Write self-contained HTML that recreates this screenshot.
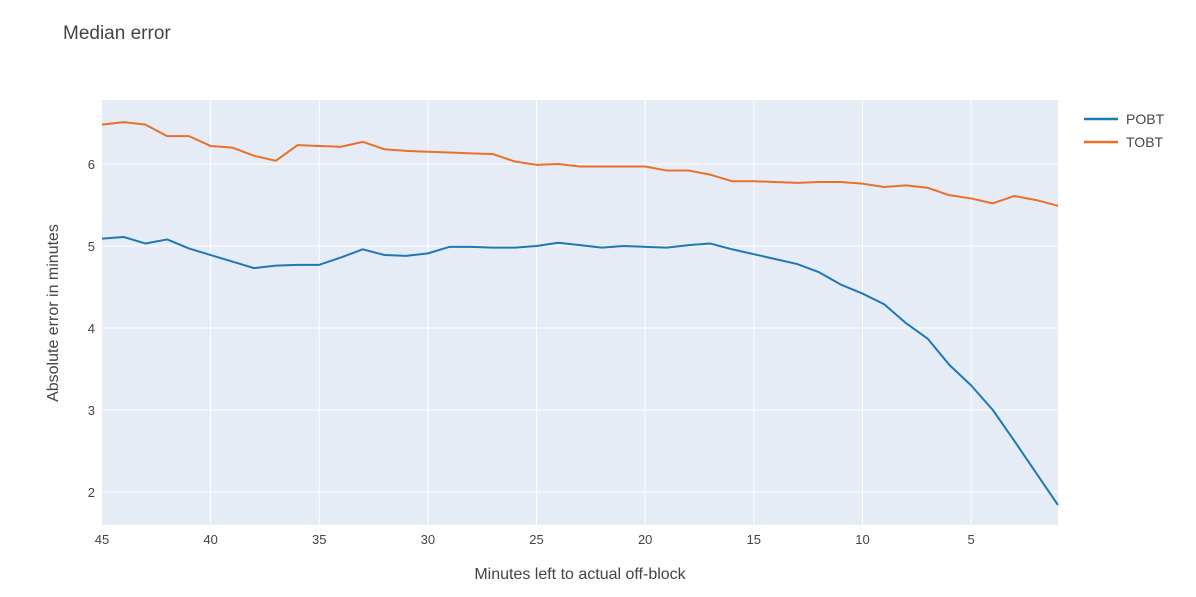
<!DOCTYPE html>
<html><head><meta charset="utf-8"><style>
body{margin:0;background:#fff;font-family:"Liberation Sans",sans-serif;}
svg text{font-family:"Liberation Sans",sans-serif;fill:#444;}
</style></head><body>
<svg id="chart" width="1196" height="592">
<text x="63" y="39" font-size="19">Median error</text>
<rect x="102" y="100" width="956" height="425" fill="#e5ecf6"/>
<g id="grid"></g><g id="ticks"></g><g id="lines"></g>
<text x="580" y="579" font-size="16" text-anchor="middle">Minutes left to actual off-block</text>
<text transform="translate(58,313) rotate(-90)" font-size="16" text-anchor="middle">Absolute error in minutes</text>
<g>
<g><line x1="1084" y1="119" x2="1118" y2="119" stroke="#1f77b4" stroke-width="2.5"/><text x="1126" y="124" font-size="14">POBT</text></g>
<g><line x1="1084" y1="142" x2="1118" y2="142" stroke="#e8702a" stroke-width="2.5"/><text x="1126" y="147" font-size="14">TOBT</text></g>
</g>
</svg>
<script>
const minutes=[45,44,43,42,41,40,39,38,37,36,35,34,33,32,31,30,29,28,27,26,25,24,23,22,21,20,19,18,17,16,15,14,13,12,11,10,9,8,7,6,5,4,3,2,1];
const pobt=[5.09,5.11,5.03,5.08,4.97,4.89,4.81,4.73,4.76,4.77,4.77,4.86,4.96,4.89,4.88,4.91,4.99,4.99,4.98,4.98,5.00,5.04,5.01,4.98,5.00,4.99,4.98,5.01,5.03,4.96,4.90,4.84,4.78,4.68,4.53,4.42,4.29,4.06,3.87,3.55,3.30,3.00,2.62,2.23,1.84];
const tobt=[6.48,6.51,6.48,6.34,6.34,6.22,6.20,6.10,6.04,6.23,6.22,6.21,6.27,6.18,6.16,6.15,6.14,6.13,6.12,6.03,5.99,6.00,5.97,5.97,5.97,5.97,5.92,5.92,5.87,5.79,5.79,5.78,5.77,5.78,5.78,5.76,5.72,5.74,5.71,5.62,5.58,5.52,5.61,5.56,5.49];
const xTicks=[45,40,35,30,25,20,15,10,5];
const yTicks=[2,3,4,5,6];
const X=v=>102+(45-v)*(956/44);
const Y=v=>164-(v-6)*82;
const ns="http://www.w3.org/2000/svg";
const grid=document.getElementById('grid'),ticks=document.getElementById('ticks'),lines=document.getElementById('lines');
xTicks.forEach(t=>{
 if(t!==45){const l=document.createElementNS(ns,'line');l.setAttribute('x1',X(t));l.setAttribute('x2',X(t));l.setAttribute('y1',100);l.setAttribute('y2',525);l.setAttribute('stroke','#fff');l.setAttribute('stroke-width','1');
 
 grid.appendChild(l);}
 const tx=document.createElementNS(ns,'text');tx.setAttribute('x',X(t));tx.setAttribute('y',544);tx.setAttribute('font-size','13');tx.setAttribute('text-anchor','middle');tx.textContent=t;
 
 ticks.appendChild(tx);
});
yTicks.forEach(t=>{
 const l=document.createElementNS(ns,'line');l.setAttribute('x1',102);l.setAttribute('x2',1058);l.setAttribute('y1',Y(t));l.setAttribute('y2',Y(t));l.setAttribute('stroke','#fff');
 
 grid.appendChild(l);
 const tx=document.createElementNS(ns,'text');tx.setAttribute('x',95);tx.setAttribute('y',Y(t)+5);tx.setAttribute('font-size','13');tx.setAttribute('text-anchor','end');tx.textContent=t;
 
 ticks.appendChild(tx);
});
function line(vals,color,name){
 const p=document.createElementNS(ns,'polyline');
 p.setAttribute('points',vals.map((v,i)=>X(minutes[i])+','+Y(v)).join(' '));
 p.setAttribute('fill','none');p.setAttribute('stroke',color);p.setAttribute('stroke-width','2');p.setAttribute('stroke-linejoin','round');
 
 
 lines.appendChild(p);
}
line(pobt,'#1f77b4','pobt-line');
line(tobt,'#e8702a','tobt-line');
</script>
</body></html>
